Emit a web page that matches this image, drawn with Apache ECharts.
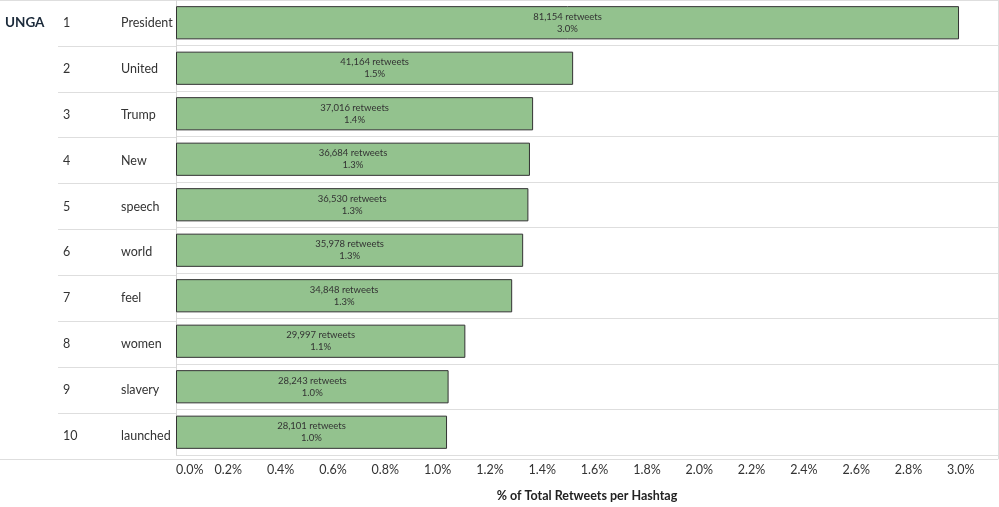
<!DOCTYPE html>
<html><head><meta charset="utf-8">
<script src="https://cdn.jsdelivr.net/npm/echarts@6/dist/echarts.min.js"></script>
<style>html,body{margin:0;padding:0;background:#fff}#c{width:999px;height:507px}</style>
</head><body><div id="c"></div>
<script>
const hashtag = 'UNGA';
const ranks = ['1','2','3','4','5','6','7','8','9','10'];
const words = ['President','United','Trump','New','speech','world','feel','women','slavery','launched'];
const retweets = [81154,41164,37016,36684,36530,35978,34848,29997,28243,28101];
const shareOfTotal = [2.993,1.518,1.365,1.353,1.347,1.327,1.285,1.106,1.042,1.036];
const pctLabels = ['3.0%','1.5%','1.4%','1.3%','1.3%','1.3%','1.3%','1.1%','1.0%','1.0%'];
const axisTitle = '% of Total Retweets per Hashtag';

const FONT = 'Lato';
const lineCol = '#dedede';
const chart = echarts.init(document.getElementById('c'), null, {renderer:'canvas'});
chart.setOption({
  animation:false,
  backgroundColor:'#fff',
  textStyle:{fontFamily:FONT},
  title:{text:hashtag,left:5,top:16,padding:0,textStyle:{fontFamily:FONT,fontSize:13.5,fontWeight:'bold',color:'#1b2a3a'}},
  grid:[
    {left:58,width:118,top:0,height:459},
    {left:176,right:1,top:0,height:459},
    {left:0,right:1,top:0,height:459}
  ],
  xAxis:[
    {gridIndex:0,type:'value',show:false},
    {gridIndex:1,type:'value',min:0,max:3.142,interval:0.2,
     axisLine:{show:false},axisTick:{show:false},splitLine:{show:false},
     axisLabel:{formatter:v=>v.toFixed(1)+'%',showMaxLabel:false,alignMinLabel:'left',margin:8,
       fontFamily:FONT,fontSize:12.5,color:'#333'},
     name:axisTitle,nameLocation:'middle',nameGap:34,
     nameTextStyle:{fontFamily:FONT,fontSize:12.5,fontWeight:'bold',color:'#222'}},
    {gridIndex:2,type:'value',show:false,min:0,max:1}
  ],
  yAxis:[
    {gridIndex:0,type:'category',inverse:true,data:words,
     axisLine:{show:false},axisTick:{show:false},
     splitLine:{show:true,lineStyle:{color:lineCol,width:1}},
     axisLabel:{inside:true,margin:5,align:'left',
       formatter:(v,i)=>'{r|'+ranks[i]+'}{n|'+v+'}',
       rich:{r:{width:58,fontFamily:FONT,fontSize:12.5,color:'#333'},
             n:{fontFamily:FONT,fontSize:12.5,color:'#333'}}}},
    {gridIndex:1,type:'category',inverse:true,data:words,
     axisLine:{show:true,lineStyle:{color:'#d6d6d6',width:1}},axisTick:{show:false},
     axisLabel:{show:false},
     splitLine:{show:true,lineStyle:{color:lineCol,width:1}}},
    {gridIndex:2,type:'category',position:'right',data:[hashtag],
     axisLine:{show:true,onZero:false,lineStyle:{color:lineCol,width:1}},axisTick:{show:false},axisLabel:{show:false},
     splitLine:{show:true,lineStyle:{color:lineCol,width:1}}}
  ],
  series:[{
    type:'bar',xAxisIndex:1,yAxisIndex:1,data:shareOfTotal,
    barCategoryGap:'27%',
    itemStyle:{color:'#93c28e',borderColor:'#333',borderWidth:1},
    label:{show:true,position:'inside',color:'#333',fontFamily:FONT,fontSize:9.5,lineHeight:12,
      formatter:p=>retweets[p.dataIndex].toLocaleString('en-US')+' retweets\n'+pctLabels[p.dataIndex]}
  }]
});
</script></body></html>
